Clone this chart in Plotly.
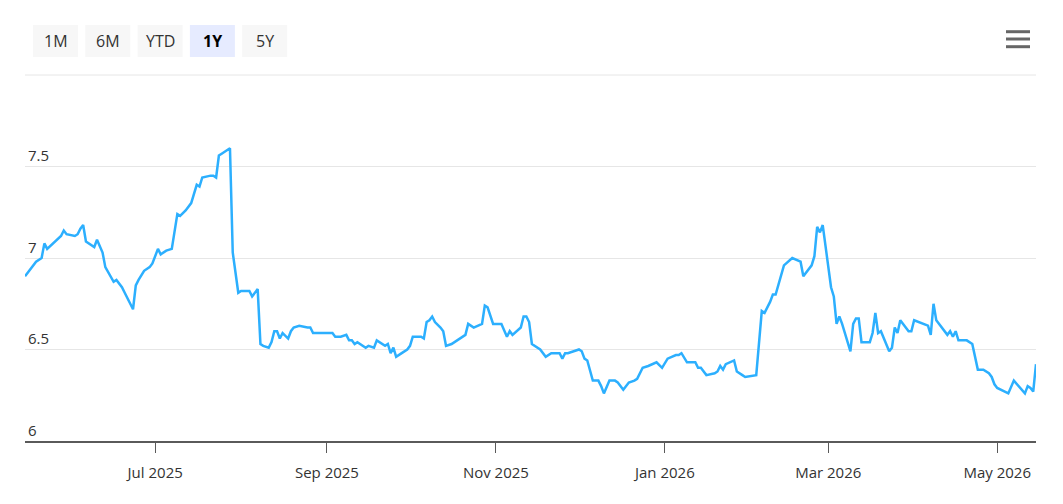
import plotly.graph_objects as go

# yield series
dates = [
    "2025-05-15", "2025-05-19", "2025-05-21", "2025-05-22", "2025-05-23", "2025-05-26",
    "2025-05-28", "2025-05-29", "2025-05-30", "2025-06-02", "2025-06-03", "2025-06-04",
    "2025-06-05", "2025-06-06", "2025-06-09", "2025-06-10", "2025-06-12", "2025-06-13",
    "2025-06-15", "2025-06-16", "2025-06-17", "2025-06-19", "2025-06-20", "2025-06-21",
    "2025-06-23", "2025-06-24", "2025-06-25", "2025-06-27", "2025-06-29", "2025-06-30",
    "2025-07-02", "2025-07-03", "2025-07-05", "2025-07-07", "2025-07-09", "2025-07-10",
    "2025-07-12", "2025-07-14", "2025-07-16", "2025-07-17", "2025-07-18", "2025-07-21",
    "2025-07-22", "2025-07-23", "2025-07-24", "2025-07-25", "2025-07-28", "2025-07-29",
    "2025-07-31", "2025-08-01", "2025-08-04", "2025-08-05", "2025-08-07", "2025-08-08",
    "2025-08-09", "2025-08-11", "2025-08-12", "2025-08-13", "2025-08-14", "2025-08-15",
    "2025-08-16", "2025-08-18", "2025-08-19", "2025-08-20", "2025-08-22", "2025-08-25",
    "2025-08-26", "2025-08-27", "2025-08-29", "2025-09-03", "2025-09-04", "2025-09-06",
    "2025-09-08", "2025-09-09", "2025-09-10", "2025-09-11", "2025-09-12", "2025-09-13",
    "2025-09-15", "2025-09-16", "2025-09-18", "2025-09-19", "2025-09-20", "2025-09-22",
    "2025-09-23", "2025-09-24", "2025-09-25", "2025-09-26", "2025-09-28", "2025-09-30",
    "2025-10-01", "2025-10-02", "2025-10-05", "2025-10-06", "2025-10-07", "2025-10-08",
    "2025-10-09", "2025-10-10", "2025-10-12", "2025-10-13", "2025-10-14", "2025-10-16",
    "2025-10-21", "2025-10-22", "2025-10-24", "2025-10-27", "2025-10-28", "2025-10-29",
    "2025-10-31", "2025-11-03", "2025-11-05", "2025-11-06", "2025-11-07", "2025-11-10",
    "2025-11-11", "2025-11-12", "2025-11-13", "2025-11-14", "2025-11-17", "2025-11-19",
    "2025-11-21", "2025-11-24", "2025-11-25", "2025-11-26", "2025-11-27", "2025-11-29",
    "2025-12-01", "2025-12-02", "2025-12-03", "2025-12-04", "2025-12-06", "2025-12-08",
    "2025-12-09", "2025-12-10", "2025-12-12", "2025-12-14", "2025-12-15", "2025-12-17",
    "2025-12-19", "2025-12-21", "2025-12-22", "2025-12-24", "2025-12-26", "2025-12-29",
    "2025-12-31", "2026-01-02", "2026-01-05", "2026-01-06", "2026-01-07", "2026-01-09",
    "2026-01-12", "2026-01-13", "2026-01-14", "2026-01-16", "2026-01-19", "2026-01-20",
    "2026-01-21", "2026-01-22", "2026-01-23", "2026-01-26", "2026-01-27", "2026-01-29",
    "2026-01-30", "2026-02-03", "2026-02-05", "2026-02-06", "2026-02-08", "2026-02-09",
    "2026-02-10", "2026-02-13", "2026-02-16", "2026-02-19", "2026-02-20", "2026-02-23",
    "2026-02-24", "2026-02-25", "2026-02-26", "2026-02-27", "2026-03-02", "2026-03-03",
    "2026-03-04", "2026-03-05", "2026-03-06", "2026-03-09", "2026-03-10", "2026-03-11",
    "2026-03-12", "2026-03-13", "2026-03-16", "2026-03-17", "2026-03-18", "2026-03-19",
    "2026-03-20", "2026-03-23", "2026-03-24", "2026-03-25", "2026-03-26", "2026-03-27",
    "2026-03-30", "2026-03-31", "2026-04-01", "2026-04-06", "2026-04-07", "2026-04-08",
    "2026-04-09", "2026-04-13", "2026-04-14", "2026-04-15", "2026-04-16", "2026-04-17",
    "2026-04-20", "2026-04-22", "2026-04-24", "2026-04-26", "2026-04-28", "2026-04-29",
    "2026-04-30", "2026-05-01", "2026-05-05", "2026-05-07", "2026-05-11", "2026-05-12",
    "2026-05-13", "2026-05-14", "2026-05-15",
]
values = [
    6.90, 6.98, 7.00, 7.08, 7.05, 7.09,
    7.12, 7.15, 7.13, 7.12, 7.13, 7.16,
    7.18, 7.09, 7.06, 7.10, 7.03, 6.95,
    6.90, 6.87, 6.88, 6.84, 6.81, 6.78,
    6.72, 6.85, 6.88, 6.93, 6.95, 6.97,
    7.05, 7.02, 7.04, 7.05, 7.24, 7.23,
    7.26, 7.30, 7.40, 7.39, 7.44, 7.45,
    7.45, 7.44, 7.56, 7.57, 7.60, 7.03,
    6.81, 6.82, 6.82, 6.79, 6.83, 6.53,
    6.52, 6.51, 6.54, 6.60, 6.60, 6.56,
    6.59, 6.56, 6.60, 6.62, 6.63, 6.62,
    6.62, 6.59, 6.59, 6.59, 6.57, 6.57,
    6.58, 6.55, 6.55, 6.53, 6.54, 6.53,
    6.51, 6.52, 6.51, 6.55, 6.54, 6.52,
    6.53, 6.48, 6.51, 6.46, 6.48, 6.50,
    6.52, 6.57, 6.57, 6.56, 6.65, 6.66,
    6.68, 6.65, 6.62, 6.60, 6.52, 6.53,
    6.58, 6.64, 6.62, 6.64, 6.74, 6.73,
    6.64, 6.64, 6.57, 6.60, 6.58, 6.62,
    6.68, 6.68, 6.65, 6.53, 6.50, 6.46,
    6.48, 6.48, 6.45, 6.48, 6.48, 6.49,
    6.50, 6.49, 6.45, 6.44, 6.33, 6.33,
    6.30, 6.26, 6.33, 6.33, 6.32, 6.28,
    6.32, 6.33, 6.34, 6.40, 6.41, 6.43,
    6.40, 6.45, 6.47, 6.47, 6.48, 6.43,
    6.43, 6.40, 6.40, 6.36, 6.37, 6.38,
    6.41, 6.39, 6.42, 6.44, 6.38, 6.36,
    6.35, 6.36, 6.71, 6.70, 6.76, 6.80,
    6.80, 6.96, 7.00, 6.98, 6.90, 6.96,
    7.01, 7.17, 7.14, 7.18, 6.84, 6.79,
    6.64, 6.68, 6.64, 6.49, 6.64, 6.67,
    6.67, 6.54, 6.54, 6.59, 6.70, 6.59,
    6.60, 6.49, 6.51, 6.62, 6.59, 6.66,
    6.60, 6.60, 6.66, 6.63, 6.58, 6.75,
    6.66, 6.58, 6.60, 6.57, 6.60, 6.55,
    6.55, 6.53, 6.39, 6.39, 6.37, 6.35,
    6.31, 6.29, 6.26, 6.33, 6.26, 6.30,
    6.29, 6.27, 6.42,
]

x_tickvals = ["2025-07-01", "2025-09-01", "2025-11-01", "2026-01-01", "2026-03-01", "2026-05-01"]
x_ticktext = ["Jul 2025", "Sep 2025", "Nov 2025", "Jan 2026", "Mar 2026", "May 2026"]
y_tickvals = [6, 6.5, 7, 7.5, 8]
y_ticktext = ["6", "6.5", "7", "7.5", ""]

range_buttons = ["1M", "6M", "YTD", "1Y", "5Y"]
active_button = "1Y"

# the page body has an 8px margin, so the figure sits 8px in from the window
OFF = 8
W, H = 1047, 488
L, T = 25 - OFF, 75 - OFF
R = W - (1036 - OFF)
B = H - (441 - OFF)
FONT = "Open Sans, Noto Sans, sans-serif"


# window pixel -> paper helpers for the toolbar bits above the plot
def px(x):
    return (x - OFF - L) / (W - L - R)


def py(y):
    return (H - B - (y - OFF)) / (H - T - B)


fig = go.Figure()
fig.add_trace(go.Scatter(
    x=dates, y=values, mode="lines",
    line=dict(color="#2caffe", width=2.5),
    hovertemplate="%{x|%b %d, %Y}: %{y:.2f}<extra></extra>",
))

shapes = []
annotations = []
for i, label in enumerate(range_buttons):
    x0 = 33 + i * 52.3
    on = label == active_button
    shapes.append(dict(
        type="rect", xref="paper", yref="paper",
        x0=px(x0), x1=px(x0 + 45), y0=py(57), y1=py(25),
        fillcolor="#e6ebff" if on else "#f7f7f7", line=dict(width=0), layer="below",
    ))
    annotations.append(dict(
        xref="paper", yref="paper", x=px(x0 + 22.5), y=py(41),
        text=f"<b>{label}</b>" if on else label, showarrow=False,
        font=dict(family=FONT, size=16, color="#000000" if on else "#333333"),
        xanchor="center", yanchor="middle",
    ))

# top gridline at the range edge (plotly skips it)
shapes.append(dict(
    type="line", xref="paper", yref="paper", x0=0, x1=1, y0=1, y1=1,
    line=dict(color="#e6e6e6", width=1), layer="below",
))

# menu icon
for yy in (31.7, 39, 46.7):
    shapes.append(dict(
        type="line", xref="paper", yref="paper",
        x0=px(1006), x1=px(1030), y0=py(yy), y1=py(yy),
        line=dict(color="#666666", width=3),
    ))

fig.update_layout(
    width=W, height=H,
    margin=dict(l=L, r=R, t=T, b=B),
    paper_bgcolor="white", plot_bgcolor="white",
    showlegend=False,
    font=dict(family=FONT, color="#333333"),
    shapes=shapes, annotations=annotations,
)
fig.update_xaxes(
    range=["2025-05-15", "2026-05-15"],
    showgrid=False, zeroline=False,
    showline=True, linecolor="#5a5a5a", linewidth=2,
    ticks="outside", ticklen=10, tickwidth=1, tickcolor="#5a5a5a",
    tickvals=x_tickvals, ticktext=x_ticktext,
    tickfont=dict(size=15, color="#333333"),
    ticklabelstandoff=7,
)
fig.update_yaxes(
    range=[6, 8],
    tickvals=y_tickvals, ticktext=y_ticktext,
    ticklabelposition="inside top",
    showgrid=True, gridcolor="#e6e6e6", gridwidth=1,
    zeroline=False, showline=False, ticks="",
    tickfont=dict(size=15, color="#333333"),
)

fig.write_html("out.html")
